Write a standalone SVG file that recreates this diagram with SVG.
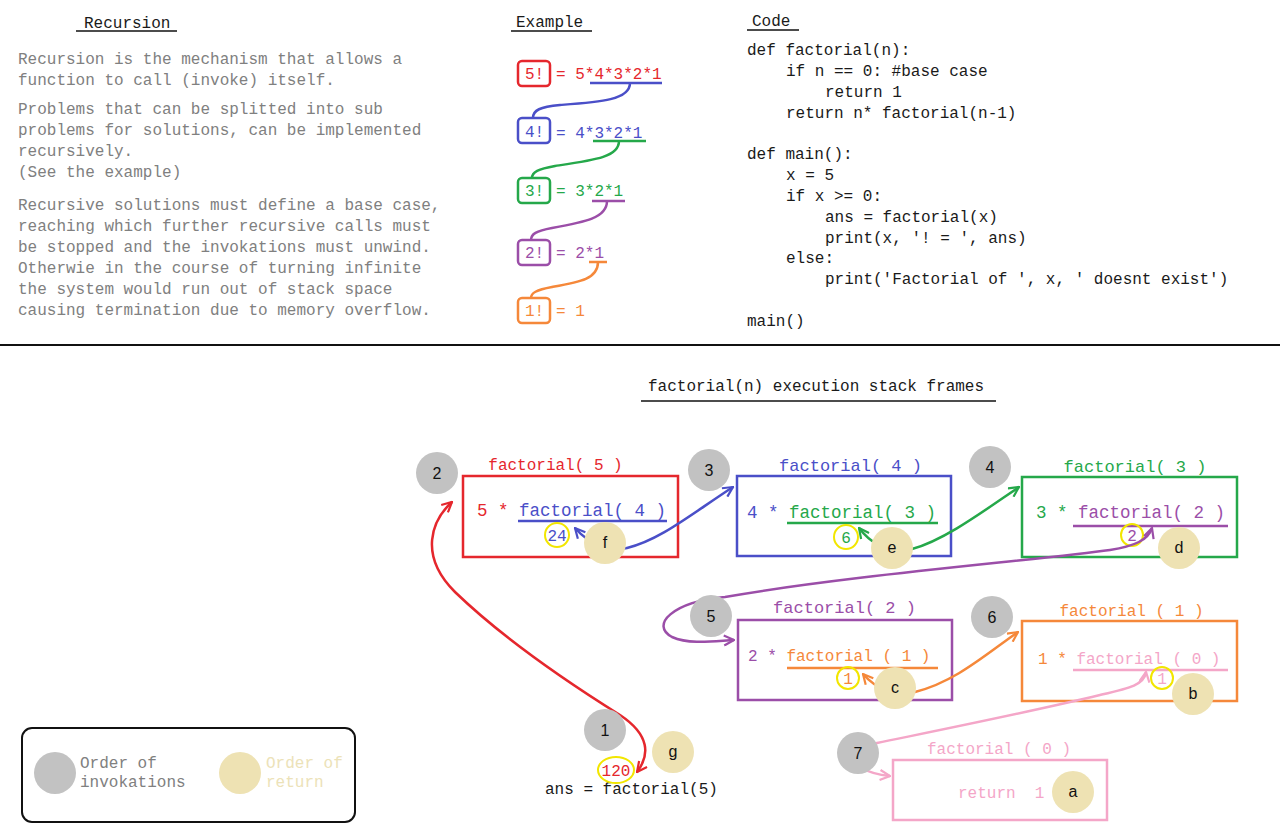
<svg xmlns="http://www.w3.org/2000/svg" width="1280" height="840" viewBox="0 0 1280 840">
<style>
.m{font-family:"Liberation Mono","DejaVu Sans Mono",monospace;font-size:16px}
.g{fill:#808080}
.k{fill:#1a1a1a}
.s{font-family:"Liberation Sans","Open Sans",sans-serif;font-size:16px;fill:#111;text-anchor:middle}
.inv{fill:#c2c2c2}
.ret{fill:#eee2b3}
.yc{fill:none;stroke:#f2e600;stroke-width:2}
.fr{fill:none;stroke-width:2.5}
.c{fill:none;stroke-width:2.5}
.r{fill:#e5272d}.rs{stroke:#e5272d}
.b{fill:#4a4fc8}.bs{stroke:#4a4fc8}
.gr{fill:#25a84a}.grs{stroke:#25a84a}
.p{fill:#9b4ea8}.ps{stroke:#9b4ea8}
.o{fill:#f5883a}.os{stroke:#f5883a}
.pk{fill:#f4a6c8}.pks{stroke:#f4a6c8}
</style>
<defs>
<marker id="ar" viewBox="0 0 12 12" refX="11" refY="6" markerWidth="12" markerHeight="12" markerUnits="userSpaceOnUse" orient="auto-start-reverse"><path d="M1,1 L11,6 L1,11" fill="none" stroke="#e5272d" stroke-width="2.2"/></marker>
<marker id="ab" viewBox="0 0 12 12" refX="11" refY="6" markerWidth="12" markerHeight="12" markerUnits="userSpaceOnUse" orient="auto-start-reverse"><path d="M1,1 L11,6 L1,11" fill="none" stroke="#4a4fc8" stroke-width="2.2"/></marker>
<marker id="ag" viewBox="0 0 12 12" refX="11" refY="6" markerWidth="12" markerHeight="12" markerUnits="userSpaceOnUse" orient="auto-start-reverse"><path d="M1,1 L11,6 L1,11" fill="none" stroke="#25a84a" stroke-width="2.2"/></marker>
<marker id="ap" viewBox="0 0 12 12" refX="11" refY="6" markerWidth="12" markerHeight="12" markerUnits="userSpaceOnUse" orient="auto-start-reverse"><path d="M1,1 L11,6 L1,11" fill="none" stroke="#9b4ea8" stroke-width="2.2"/></marker>
<marker id="ao" viewBox="0 0 12 12" refX="11" refY="6" markerWidth="12" markerHeight="12" markerUnits="userSpaceOnUse" orient="auto-start-reverse"><path d="M1,1 L11,6 L1,11" fill="none" stroke="#f5883a" stroke-width="2.2"/></marker>
<marker id="apk" viewBox="0 0 12 12" refX="11" refY="6" markerWidth="12" markerHeight="12" markerUnits="userSpaceOnUse" orient="auto-start-reverse"><path d="M1,1 L11,6 L1,11" fill="none" stroke="#f4a6c8" stroke-width="2.2"/></marker>
</defs>
<rect width="1280" height="840" fill="#ffffff"/>

<g id="recursion-text">
<text class="m k" x="84" y="28">Recursion</text>
<line x1="76" y1="31" x2="177" y2="31" stroke="#111" stroke-width="1.5"/>
<g class="m g">
<text x="18" y="64">Recursion is the mechanism that allows a</text>
<text x="18" y="85">function to call (invoke) itself.</text>
<text x="18" y="114">Problems that can be splitted into sub</text>
<text x="18" y="135">problems for solutions, can be implemented</text>
<text x="18" y="156">recursively.</text>
<text x="18" y="177">(See the example)</text>
<text x="18" y="210">Recursive solutions must define a base case,</text>
<text x="18" y="231">reaching which further recursive calls must</text>
<text x="18" y="252">be stopped and the invokations must unwind.</text>
<text x="18" y="273">Otherwie in the course of turning infinite</text>
<text x="18" y="294">the system would run out of stack space</text>
<text x="18" y="315">causing termination due to memory overflow.</text>
</g>
</g>

<g id="example">
<text class="m k" x="516" y="27">Example</text>
<line x1="511" y1="31" x2="592" y2="31" stroke="#111" stroke-width="1.5"/>
<g id="ex5">
<rect x="518" y="61" width="32" height="25" rx="4" class="fr rs"/>
<text class="m r" x="525" y="79">5!</text>
<text class="m r" x="556" y="79">= 5*4*3*2*1</text>
</g>
<g id="ex4">
<rect x="518" y="118" width="32" height="25" rx="4" class="fr bs"/>
<text class="m b" x="525" y="137">4!</text>
<text class="m b" x="556" y="138">= 4*3*2*1</text>
</g>
<g id="ex3">
<rect x="518" y="178" width="32" height="25" rx="4" class="fr grs"/>
<text class="m gr" x="525" y="196">3!</text>
<text class="m gr" x="556" y="196">= 3*2*1</text>
</g>
<g id="ex2">
<rect x="518" y="240" width="32" height="25" rx="4" class="fr ps"/>
<text class="m p" x="525" y="258">2!</text>
<text class="m p" x="556" y="258">= 2*1</text>
</g>
<g id="ex1">
<rect x="518" y="298" width="32" height="25" rx="4" class="fr os"/>
<text class="m o" x="525" y="316">1!</text>
<text class="m o" x="556" y="316">= 1</text>
</g>
<g id="ex-connectors">
<path class="c bs" d="M590,83 H662 M630,83 C630,100 600,102 560,105 C540,107 533,110 533,118"/>
<path class="c grs" d="M593,141 H646 M619,141 C619,157 595,160 555,166 C538,169 532,172 532,178"/>
<path class="c ps" d="M592,201 H625 M607,201 C607,218 585,222 552,228 C536,231 531,234 531,240"/>
<path class="c os" d="M589,262 H607 M598,262 C598,279 580,282 552,287 C536,290 531,293 531,298"/>
</g>
</g>

<g id="code">
<text class="m k" x="752" y="26">Code</text>
<line x1="747" y1="30" x2="799" y2="30" stroke="#111" stroke-width="1.5"/>
<g class="m k">
<text x="747" y="55">def factorial(n):</text>
<text x="786" y="76">if n == 0: #base case</text>
<text x="825" y="97">return 1</text>
<text x="786" y="118">return n* factorial(n-1)</text>
<text x="747" y="159">def main():</text>
<text x="786" y="180">x = 5</text>
<text x="786" y="201">if x &gt;= 0:</text>
<text x="825" y="222">ans = factorial(x)</text>
<text x="825" y="243">print(x, '! = ', ans)</text>
<text x="786" y="263">else:</text>
<text x="825" y="284">print('Factorial of ', x, ' doesnt exist')</text>
<text x="747" y="326">main()</text>
</g>
</g>

<line id="divider" x1="0" y1="345" x2="1280" y2="345" stroke="#111" stroke-width="2"/>

<g id="stack-title">
<text class="m k" x="648" y="391">factorial(n) execution stack frames</text>
<line x1="641" y1="401" x2="996" y2="401" stroke="#111" stroke-width="1.5"/>
</g>

<g id="frame5">
<text class="m r" x="555.5" y="470" text-anchor="middle">factorial( 5 )</text>
<rect x="463" y="476" width="215" height="81" class="fr rs"/>
<text class="m" x="477" y="516" style="font-size:17.5px"><tspan class="r">5 * </tspan><tspan class="b">factorial( 4 )</tspan></text>
<line x1="518" y1="521" x2="667" y2="521" class="c bs"/>
<circle cx="557" cy="535" r="12" class="yc"/>
<text class="m b" x="557" y="541" text-anchor="middle">24</text>
</g>
<g id="frame4">
<text class="m b" x="850.5" y="471" text-anchor="middle" style="font-size:17px">factorial( 4 )</text>
<rect x="737" y="476" width="214" height="80" class="fr bs"/>
<text class="m" x="747" y="518" style="font-size:17.5px"><tspan class="b">4 * </tspan><tspan class="gr">factorial( 3 )</tspan></text>
<line x1="787" y1="523" x2="938" y2="523" class="c grs"/>
<circle cx="846" cy="537" r="12" class="yc"/>
<text class="m gr" x="846" y="543" text-anchor="middle">6</text>
</g>
<g id="frame3">
<text class="m gr" x="1135" y="472" text-anchor="middle" style="font-size:17px">factorial( 3 )</text>
<rect x="1022" y="477" width="215" height="80" class="fr grs"/>
<text class="m" x="1036" y="518" style="font-size:17.5px"><tspan class="gr">3 * </tspan><tspan class="p">factorial( 2 )</tspan></text>
<line x1="1073" y1="526" x2="1228" y2="526" class="c ps"/>
<circle cx="1132" cy="535" r="11" class="yc"/>
<text class="m p" x="1132" y="541" text-anchor="middle">2</text>
</g>
<g id="frame2">
<text class="m p" x="844.5" y="613" text-anchor="middle" style="font-size:17px">factorial( 2 )</text>
<rect x="738" y="620" width="214" height="80" class="fr ps"/>
<text class="m" x="748" y="661"><tspan class="p">2 * </tspan><tspan class="o">factorial ( 1 )</tspan></text>
<line x1="787" y1="668" x2="938" y2="668" class="c os"/>
<circle cx="848" cy="678" r="11" class="yc"/>
<text class="m o" x="848" y="684" text-anchor="middle">1</text>
</g>
<g id="frame1">
<text class="m o" x="1131.5" y="616" text-anchor="middle">factorial ( 1 )</text>
<rect x="1022" y="621" width="215" height="80" class="fr os"/>
<text class="m" x="1038" y="664"><tspan class="o">1 * </tspan><tspan class="pk">factorial ( 0 )</tspan></text>
<line x1="1073" y1="670" x2="1228" y2="670" class="c pks"/>
<circle cx="1162" cy="678" r="11" class="yc"/>
<text class="m pk" x="1162" y="684" text-anchor="middle">1</text>
</g>
<g id="frame0">
<text class="m pk" x="999" y="754" text-anchor="middle">factorial ( 0 )</text>
<rect x="893" y="760" width="214" height="60" class="fr pks"/>
<text class="m pk" x="958" y="798" xml:space="preserve">return  1</text>
</g>
<g id="main-call">
<text class="m k" x="545" y="794">ans = factorial(5)</text>
<ellipse cx="616" cy="770" rx="18" ry="13" class="yc"/>
<text class="m r" x="616" y="776" text-anchor="middle">120</text>
</g>

<g id="connectors">
<path class="c rs" d="M452,502 C432,520 418,555 455,592 C510,645 580,690 620,715 C650,735 650,755 637,772" marker-start="url(#ar)" marker-end="url(#ar)"/>
<path class="c bs" d="M575,528 C590,545 610,552 627,548 C660,540 690,515 733,487" marker-start="url(#ab)" marker-end="url(#ab)"/>
<path class="c grs" d="M859,528 C872,545 890,553 912,549 C945,540 985,510 1019,487" marker-start="url(#ag)" marker-end="url(#ag)"/>
<path class="c ps" d="M1152,528 C1148,540 1135,546 1110,550 C1040,560 850,575 725,597 C672,602 650,625 672,637 C690,645 715,641 734,640" marker-start="url(#ap)" marker-end="url(#ap)"/>
<path class="c os" d="M863,674 C875,688 895,697 915,692 C955,682 985,655 1018,632" marker-start="url(#ao)" marker-end="url(#ao)"/>
<path class="c pks" d="M1146,672 C1144,685 1130,688 1100,695 C1030,712 930,732 877,743 C860,748 850,760 862,768 C870,773 880,775 890,776" marker-start="url(#apk)" marker-end="url(#apk)"/>
</g>

<g id="order-invoke">
<g id="inv1"><circle cx="605" cy="730" r="21" class="inv"/><text class="s" x="605" y="736">1</text></g>
<g id="inv2"><circle cx="437" cy="473" r="21" class="inv"/><text class="s" x="437" y="479">2</text></g>
<g id="inv3"><circle cx="709" cy="470" r="21" class="inv"/><text class="s" x="709" y="476">3</text></g>
<g id="inv4"><circle cx="990" cy="467" r="21" class="inv"/><text class="s" x="990" y="473">4</text></g>
<g id="inv5"><circle cx="711" cy="616" r="21" class="inv"/><text class="s" x="711" y="622">5</text></g>
<g id="inv6"><circle cx="992" cy="617" r="21" class="inv"/><text class="s" x="992" y="623">6</text></g>
<g id="inv7"><circle cx="858" cy="753" r="21" class="inv"/><text class="s" x="858" y="759">7</text></g>
</g>
<g id="order-return">
<g id="ret-a"><circle cx="1073" cy="792" r="21" class="ret"/><text class="s" x="1073" y="797">a</text></g>
<g id="ret-b"><circle cx="1193" cy="694" r="21" class="ret"/><text class="s" x="1193" y="699">b</text></g>
<g id="ret-c"><circle cx="895" cy="688" r="21" class="ret"/><text class="s" x="895" y="693">c</text></g>
<g id="ret-d"><circle cx="1179" cy="548" r="21" class="ret"/><text class="s" x="1179" y="553">d</text></g>
<g id="ret-e"><circle cx="892" cy="548" r="21" class="ret"/><text class="s" x="892" y="553">e</text></g>
<g id="ret-f"><circle cx="605" cy="543" r="21" class="ret"/><text class="s" x="605" y="548">f</text></g>
<g id="ret-g"><circle cx="673" cy="752" r="21" class="ret"/><text class="s" x="673" y="757">g</text></g>
</g>

<g id="legend">
<rect x="22" y="728" width="333" height="94" rx="10" fill="none" stroke="#111" stroke-width="2"/>
<circle cx="55" cy="773" r="21" class="inv"/>
<text class="m g" x="80" y="768">Order of</text>
<text class="m g" x="80" y="787">invokations</text>
<circle cx="240" cy="773" r="21" class="ret"/>
<text class="m" x="266" y="768" fill="#ece2b8">Order of</text>
<text class="m" x="266" y="787" fill="#ece2b8">return</text>
</g>
</svg>
